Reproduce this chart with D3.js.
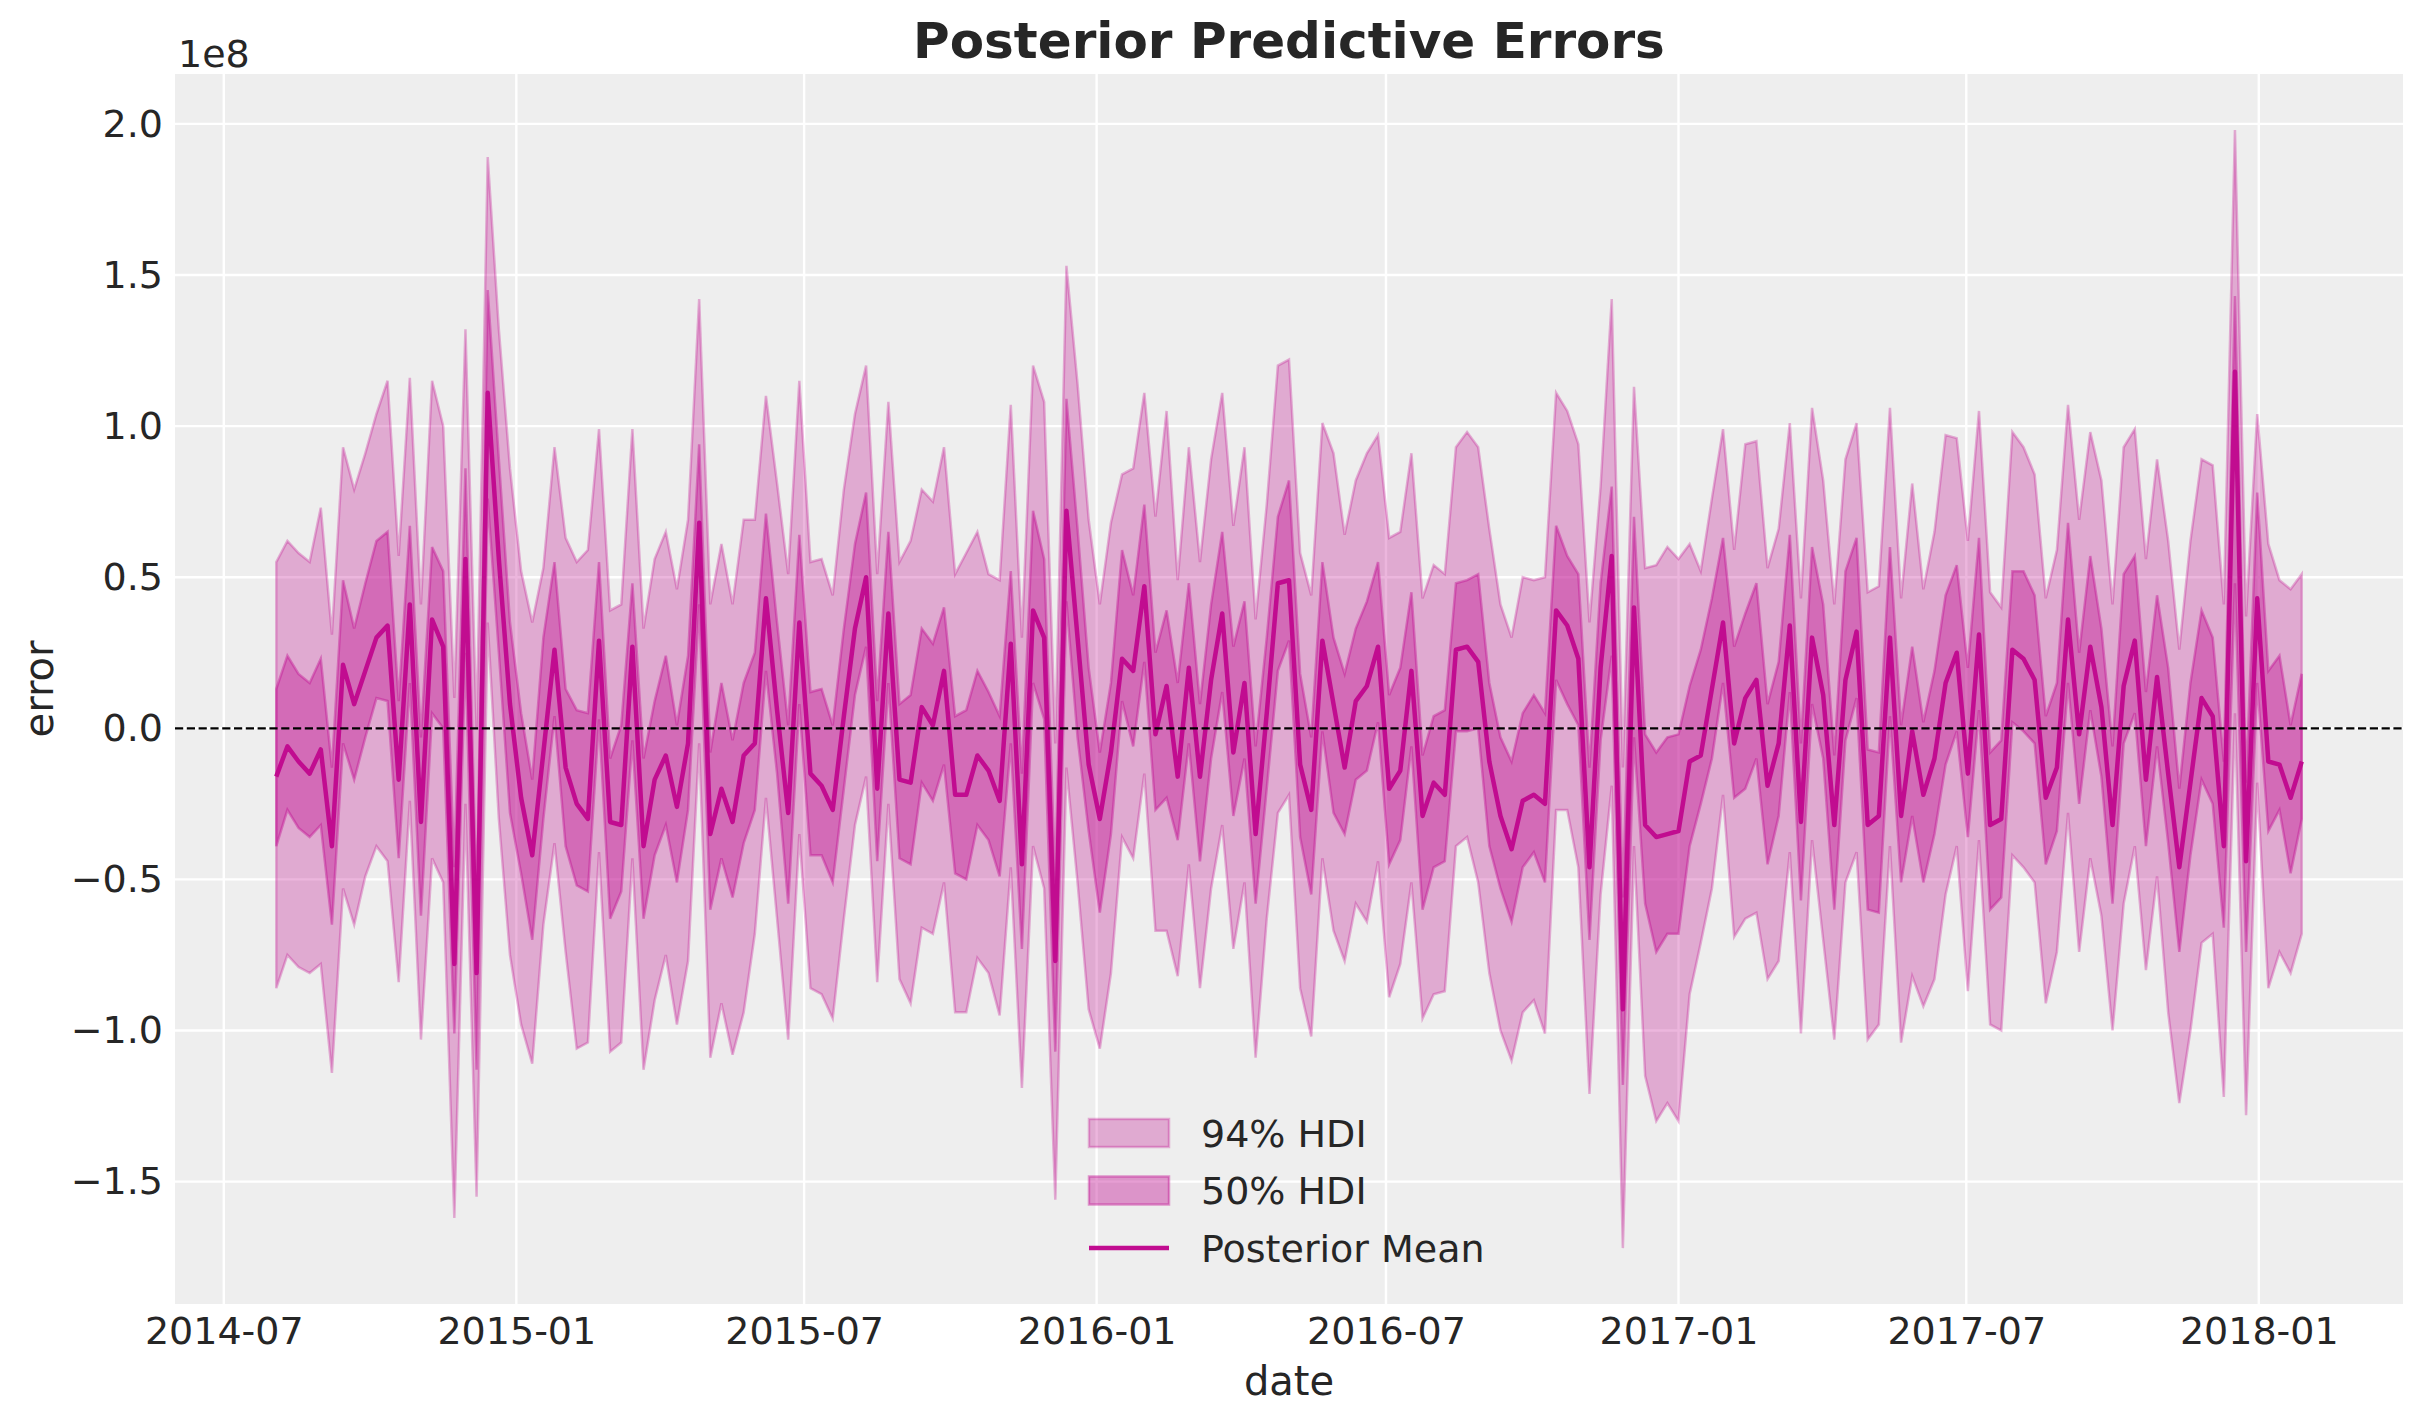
<!DOCTYPE html>
<html>
<head>
<meta charset="utf-8">
<script src="https://cdn.jsdelivr.net/npm/d3@7"></script>
<style>
  body { margin: 0; background: #ffffff; }
  text { font-family: "DejaVu Sans", sans-serif; fill: #262626; }
</style>
</head>
<body>
<div id="chart"></div>
<script>
// Weekly posterior predictive errors, values in units of 1e8
var startDate = "2014-08-03";

var meanValues = [
  -0.16, -0.06, -0.11, -0.15, -0.07, -0.39, 0.21, 0.08, 0.19, 0.30,
  0.34, -0.17, 0.41, -0.31, 0.36, 0.27, -0.78, 0.56, -0.81, 1.11,
  0.56, 0.08, -0.23, -0.42, -0.08, 0.26, -0.13, -0.25, -0.30, 0.29,
  -0.31, -0.32, 0.27, -0.39, -0.17, -0.09, -0.26, -0.05, 0.68, -0.35,
  -0.20, -0.31, -0.09, -0.05, 0.43, 0.06, -0.28, 0.35, -0.15, -0.19,
  -0.27, 0.04, 0.33, 0.50, -0.20, 0.38, -0.17, -0.18, 0.07, 0.01,
  0.19, -0.22, -0.22, -0.09, -0.14, -0.24, 0.28, -0.45, 0.39, 0.30,
  -0.77, 0.72, 0.30, -0.12, -0.30, -0.08, 0.23, 0.19, 0.47, -0.02,
  0.14, -0.16, 0.20, -0.16, 0.16, 0.38, -0.08, 0.15, -0.35, 0.05,
  0.48, 0.49, -0.12, -0.27, 0.29, 0.08, -0.13, 0.09, 0.14, 0.27,
  -0.20, -0.14, 0.19, -0.29, -0.18, -0.22, 0.26, 0.27, 0.22, -0.11,
  -0.29, -0.40, -0.24, -0.22, -0.25, 0.39, 0.34, 0.23, -0.46, 0.20,
  0.57, -0.93, 0.40, -0.32, -0.36, -0.35, -0.34, -0.11, -0.09, 0.13,
  0.35, -0.05, 0.10, 0.16, -0.19, -0.05, 0.34, -0.31, 0.30, 0.11,
  -0.32, 0.16, 0.32, -0.32, -0.29, 0.30, -0.29, -0.01, -0.22, -0.10,
  0.15, 0.25, -0.15, 0.31, -0.32, -0.30, 0.26, 0.23, 0.16, -0.23,
  -0.13, 0.36, -0.02, 0.27, 0.07, -0.32, 0.14, 0.29, -0.17, 0.17,
  -0.15, -0.46, -0.18, 0.10, 0.04, -0.39, 1.18, -0.44, 0.43, -0.11,
  -0.12, -0.23, -0.11
];

var hdi50High = [
  0.13, 0.24, 0.18, 0.15, 0.23, -0.13, 0.49, 0.33, 0.48, 0.62,
  0.65, 0.09, 0.67, -0.03, 0.60, 0.52, -0.46, 0.86, -0.58, 1.45,
  0.89, 0.35, 0.05, -0.17, 0.30, 0.55, 0.13, 0.06, 0.05, 0.55,
  -0.10, 0.01, 0.48, -0.10, 0.09, 0.24, 0.01, 0.24, 0.94, -0.08,
  0.15, -0.04, 0.15, 0.25, 0.71, 0.35, 0.01, 0.64, 0.12, 0.13,
  0.01, 0.33, 0.61, 0.78, 0.09, 0.65, 0.08, 0.11, 0.33, 0.28,
  0.40, 0.04, 0.06, 0.19, 0.12, 0.04, 0.52, -0.15, 0.72, 0.56,
  -0.51, 1.09, 0.66, 0.20, -0.08, 0.15, 0.59, 0.44, 0.74, 0.25,
  0.39, 0.15, 0.48, 0.08, 0.41, 0.65, 0.27, 0.42, -0.06, 0.30,
  0.70, 0.82, 0.18, -0.03, 0.55, 0.30, 0.18, 0.33, 0.42, 0.55,
  0.11, 0.20, 0.45, -0.09, 0.04, 0.06, 0.48, 0.49, 0.51, 0.15,
  -0.03, -0.11, 0.05, 0.11, 0.05, 0.67, 0.57, 0.51, -0.13, 0.48,
  0.80, -0.56, 0.70, -0.02, -0.08, -0.03, -0.02, 0.14, 0.26, 0.43,
  0.63, 0.27, 0.38, 0.48, 0.08, 0.22, 0.64, -0.05, 0.60, 0.41,
  -0.09, 0.52, 0.63, -0.07, -0.08, 0.60, 0.01, 0.27, 0.02, 0.19,
  0.44, 0.54, 0.20, 0.63, -0.08, -0.04, 0.52, 0.52, 0.44, 0.04,
  0.15, 0.68, 0.25, 0.57, 0.33, -0.06, 0.51, 0.57, 0.12, 0.44,
  0.20, -0.20, 0.15, 0.39, 0.30, -0.11, 1.43, -0.18, 0.78, 0.19,
  0.24, 0.01, 0.18
];

var hdi50Low = [
  -0.39, -0.27, -0.33, -0.36, -0.32, -0.65, -0.05, -0.17, -0.03, 0.10,
  0.09, -0.43, 0.15, -0.62, 0.05, 0.00, -1.01, 0.25, -1.13, 0.76,
  0.25, -0.28, -0.48, -0.70, -0.30, 0.04, -0.39, -0.52, -0.54, 0.03,
  -0.63, -0.54, -0.04, -0.63, -0.42, -0.32, -0.51, -0.27, 0.41, -0.60,
  -0.43, -0.56, -0.38, -0.27, 0.19, -0.15, -0.58, 0.08, -0.42, -0.42,
  -0.51, -0.20, 0.11, 0.27, -0.44, 0.15, -0.43, -0.45, -0.18, -0.24,
  -0.12, -0.48, -0.50, -0.32, -0.37, -0.49, -0.05, -0.73, 0.15, 0.03,
  -1.07, 0.42, -0.03, -0.34, -0.61, -0.35, 0.09, -0.06, 0.22, -0.27,
  -0.23, -0.37, -0.05, -0.44, -0.10, 0.12, -0.29, -0.10, -0.58, -0.20,
  0.19, 0.29, -0.36, -0.55, -0.01, -0.28, -0.35, -0.17, -0.14, 0.02,
  -0.45, -0.37, -0.06, -0.60, -0.46, -0.44, -0.01, -0.01, 0.00, -0.39,
  -0.53, -0.64, -0.46, -0.41, -0.51, 0.16, 0.08, 0.01, -0.70, -0.04,
  0.24, -1.18, -0.03, -0.58, -0.74, -0.68, -0.68, -0.39, -0.25, -0.10,
  0.15, -0.23, -0.20, -0.10, -0.45, -0.29, 0.12, -0.57, 0.08, -0.10,
  -0.60, -0.04, 0.10, -0.60, -0.61, 0.04, -0.51, -0.29, -0.51, -0.35,
  -0.12, -0.01, -0.36, 0.06, -0.60, -0.56, 0.02, -0.01, -0.05, -0.45,
  -0.34, 0.15, -0.25, 0.06, -0.16, -0.58, -0.05, 0.05, -0.39, -0.06,
  -0.38, -0.74, -0.42, -0.17, -0.25, -0.66, 0.48, -0.74, 0.15, -0.34,
  -0.27, -0.48, -0.30
];

var hdi94High = [
  0.55, 0.62, 0.58, 0.55, 0.73, 0.31, 0.93, 0.79, 0.91, 1.04,
  1.15, 0.57, 1.16, 0.41, 1.15, 1.00, 0.10, 1.32, 0.00, 1.89,
  1.32, 0.86, 0.52, 0.35, 0.53, 0.93, 0.63, 0.55, 0.59, 0.99,
  0.39, 0.41, 0.99, 0.33, 0.56, 0.65, 0.46, 0.69, 1.42, 0.41,
  0.61, 0.41, 0.69, 0.69, 1.10, 0.81, 0.51, 1.15, 0.55, 0.56,
  0.44, 0.79, 1.04, 1.20, 0.51, 1.08, 0.55, 0.62, 0.79, 0.75,
  0.93, 0.51, 0.58, 0.65, 0.51, 0.49, 1.07, 0.30, 1.20, 1.08,
  -0.05, 1.53, 1.14, 0.69, 0.41, 0.68, 0.84, 0.86, 1.11, 0.70,
  1.05, 0.49, 0.93, 0.55, 0.89, 1.11, 0.67, 0.93, 0.36, 0.74,
  1.20, 1.22, 0.58, 0.44, 1.01, 0.91, 0.64, 0.82, 0.91, 0.97,
  0.63, 0.65, 0.91, 0.43, 0.54, 0.51, 0.93, 0.98, 0.93, 0.66,
  0.41, 0.30, 0.50, 0.49, 0.50, 1.11, 1.05, 0.94, 0.35, 0.80,
  1.42, -0.13, 1.13, 0.53, 0.54, 0.60, 0.56, 0.61, 0.52, 0.76,
  0.99, 0.59, 0.94, 0.95, 0.53, 0.66, 1.01, 0.43, 1.06, 0.82,
  0.41, 0.89, 1.01, 0.45, 0.47, 1.06, 0.43, 0.81, 0.46, 0.65,
  0.97, 0.96, 0.62, 1.05, 0.45, 0.40, 0.98, 0.93, 0.84, 0.43,
  0.59, 1.07, 0.69, 0.98, 0.82, 0.41, 0.93, 0.99, 0.56, 0.89,
  0.62, 0.26, 0.62, 0.89, 0.87, 0.41, 1.98, 0.37, 1.04, 0.61,
  0.49, 0.46, 0.51
];

var hdi94Low = [
  -0.86, -0.75, -0.79, -0.81, -0.78, -1.14, -0.53, -0.65, -0.49, -0.39,
  -0.44, -0.84, -0.24, -1.03, -0.43, -0.51, -1.62, -0.25, -1.55, 0.35,
  -0.30, -0.75, -0.98, -1.11, -0.65, -0.38, -0.74, -1.06, -1.04, -0.41,
  -1.07, -1.04, -0.43, -1.13, -0.90, -0.75, -0.98, -0.77, -0.05, -1.09,
  -0.91, -1.08, -0.94, -0.68, -0.23, -0.63, -1.03, -0.35, -0.86, -0.88,
  -0.96, -0.63, -0.32, -0.16, -0.84, -0.25, -0.83, -0.91, -0.66, -0.68,
  -0.51, -0.94, -0.94, -0.76, -0.81, -0.95, -0.46, -1.19, -0.39, -0.53,
  -1.56, -0.13, -0.51, -0.93, -1.06, -0.81, -0.36, -0.43, -0.15, -0.67,
  -0.67, -0.82, -0.45, -0.86, -0.53, -0.32, -0.73, -0.51, -1.09, -0.63,
  -0.28, -0.22, -0.86, -1.02, -0.43, -0.67, -0.77, -0.58, -0.64, -0.44,
  -0.89, -0.78, -0.51, -0.96, -0.88, -0.87, -0.39, -0.36, -0.51, -0.81,
  -1.00, -1.10, -0.94, -0.90, -1.01, -0.27, -0.27, -0.46, -1.21, -0.55,
  -0.19, -1.72, -0.39, -1.15, -1.30, -1.24, -1.30, -0.88, -0.71, -0.53,
  -0.22, -0.69, -0.63, -0.61, -0.83, -0.77, -0.41, -1.01, -0.37, -0.70,
  -1.03, -0.51, -0.41, -1.03, -0.98, -0.39, -1.04, -0.82, -0.92, -0.83,
  -0.55, -0.39, -0.87, -0.37, -0.98, -1.00, -0.42, -0.46, -0.51, -0.91,
  -0.74, -0.28, -0.74, -0.43, -0.62, -1.00, -0.58, -0.39, -0.80, -0.49,
  -0.94, -1.24, -1.00, -0.71, -0.68, -1.22, 0.05, -1.28, -0.18, -0.86,
  -0.74, -0.81, -0.68
];

// Tick labels
var xTickLabels = ["2014-07", "2015-01", "2015-07", "2016-01", "2016-07", "2017-01", "2017-07", "2018-01"];
var yTickValues = [-1.5, -1.0, -0.5, 0.0, 0.5, 1.0, 1.5, 2.0];

// Legend entries
var legendLabels = ["94% HDI", "50% HDI", "Posterior Mean"];

// Canvas size
var svgWidth = 2423;
var svgHeight = 1423;
var margin = { top: 74, right: 20, bottom: 119, left: 175 };
var width = svgWidth - margin.left - margin.right;
var height = svgHeight - margin.top - margin.bottom;

var mainColor = "#c10c90";

// One row per week
var parseDay = d3.timeParse("%Y-%m-%d");
var parseMonth = d3.timeParse("%Y-%m");
var theData = meanValues.map(function(m, i) {
  return {
    date: d3.timeDay.offset(parseDay(startDate), 7 * i),
    mean: m,
    lo50: hdi50Low[i],
    hi50: hdi50High[i],
    lo94: hdi94Low[i],
    hi94: hdi94High[i]
  };
});

var svg = d3
  .select("#chart")
  .append("svg")
  .attr("width", svgWidth)
  .attr("height", svgHeight);

var chart = svg
  .append("g")
  .attr("transform", "translate(" + margin.left + "," + margin.top + ")");

// Matplotlib style 5% padding on both axes
var xExt = d3.extent(theData, function(d) { return d.date; });
var xPad = (xExt[1] - xExt[0]) * 0.05;
var xScale = d3
  .scaleTime()
  .domain([new Date(+xExt[0] - xPad), new Date(+xExt[1] + xPad)])
  .range([0, width]);

var yMin = d3.min(theData, function(d) { return d.lo94; });
var yMax = d3.max(theData, function(d) { return d.hi94; });
var yPad = (yMax - yMin) * 0.05;
var yScale = d3
  .scaleLinear()
  .domain([yMin - yPad, yMax + yPad])
  .range([height, 0]);

// Grey plotting area
chart
  .append("rect")
  .attr("width", width)
  .attr("height", height)
  .attr("fill", "#eeeeee");

var xTickDates = xTickLabels.map(function(s) { return parseMonth(s); });

// White grid lines
chart
  .append("g")
  .selectAll("line")
  .data(xTickDates)
  .enter()
  .append("line")
  .attr("x1", function(d) { return xScale(d); })
  .attr("x2", function(d) { return xScale(d); })
  .attr("y1", 0)
  .attr("y2", height)
  .attr("stroke", "#ffffff")
  .attr("stroke-width", 2.4);

chart
  .append("g")
  .selectAll("line")
  .data(yTickValues)
  .enter()
  .append("line")
  .attr("x1", 0)
  .attr("x2", width)
  .attr("y1", function(d) { return yScale(d); })
  .attr("y2", function(d) { return yScale(d); })
  .attr("stroke", "#ffffff")
  .attr("stroke-width", 2.4);

// HDI bands
function band(lo, hi) {
  return d3
    .area()
    .x(function(d) { return xScale(d.date); })
    .y0(function(d) { return yScale(d[lo]); })
    .y1(function(d) { return yScale(d[hi]); });
}

chart
  .append("path")
  .datum(theData)
  .attr("d", band("lo94", "hi94"))
  .attr("fill", mainColor)
  .attr("fill-opacity", 0.3)
  .attr("stroke", mainColor)
  .attr("stroke-opacity", 0.3)
  .attr("stroke-width", 2.5);

chart
  .append("path")
  .datum(theData)
  .attr("d", band("lo50", "hi50"))
  .attr("fill", mainColor)
  .attr("fill-opacity", 0.4)
  .attr("stroke", mainColor)
  .attr("stroke-opacity", 0.4)
  .attr("stroke-width", 2.5);

// Posterior mean line
var meanLine = d3
  .line()
  .x(function(d) { return xScale(d.date); })
  .y(function(d) { return yScale(d.mean); });

chart
  .append("path")
  .datum(theData)
  .attr("d", meanLine)
  .attr("fill", "none")
  .attr("stroke", mainColor)
  .attr("stroke-width", 4.5)
  .attr("stroke-linejoin", "round");

// Zero reference line
chart
  .append("line")
  .attr("x1", 0)
  .attr("x2", width)
  .attr("y1", yScale(0))
  .attr("y2", yScale(0))
  .attr("stroke", "#000000")
  .attr("stroke-width", 2.2)
  .attr("stroke-dasharray", "8.2,3.6");

// Axes without tick marks or spines
var xAxis = d3
  .axisBottom(xScale)
  .tickValues(xTickDates)
  .tickFormat(d3.timeFormat("%Y-%m"))
  .tickSize(0)
  .tickPadding(13);

var yAxis = d3
  .axisLeft(yScale)
  .tickValues(yTickValues)
  .tickFormat(d3.format(".1f"))
  .tickSize(0)
  .tickPadding(12);

var xAxisG = chart
  .append("g")
  .attr("transform", "translate(0," + height + ")")
  .call(xAxis);

var yAxisG = chart.append("g").call(yAxis);

[xAxisG, yAxisG].forEach(function(g) {
  g.select(".domain").remove();
  g.selectAll("text")
    .style("font-family", "'DejaVu Sans', sans-serif")
    .style("font-size", "38px")
    .attr("fill", "#262626");
});

// Offset text for the y axis
svg
  .append("text")
  .attr("x", margin.left + 3)
  .attr("y", 67)
  .style("font-size", "38px")
  .text("1e8");

// Title
svg
  .append("text")
  .attr("x", margin.left + width / 2)
  .attr("y", 58)
  .attr("text-anchor", "middle")
  .style("font-size", "50px")
  .style("font-weight", "bold")
  .text("Posterior Predictive Errors");

// Axis labels
svg
  .append("text")
  .attr("x", margin.left + width / 2)
  .attr("y", 1395)
  .attr("text-anchor", "middle")
  .style("font-size", "40px")
  .text("date");

svg
  .append("text")
  .attr("transform", "translate(53," + (margin.top + height / 2) + ")rotate(-90)")
  .attr("text-anchor", "middle")
  .style("font-size", "40px")
  .text("error");

// Legend, lower center
var legend = chart
  .append("g")
  .attr("transform", "translate(" + (width / 2 - 200) + "," + (height - 171) + ")");

var rowGap = 57.5;

legend
  .append("rect")
  .attr("x", 0)
  .attr("y", -14)
  .attr("width", 80)
  .attr("height", 28)
  .attr("fill", mainColor)
  .attr("fill-opacity", 0.3)
  .attr("stroke", mainColor)
  .attr("stroke-opacity", 0.3)
  .attr("stroke-width", 2.5);

legend
  .append("rect")
  .attr("x", 0)
  .attr("y", rowGap - 14)
  .attr("width", 80)
  .attr("height", 28)
  .attr("fill", mainColor)
  .attr("fill-opacity", 0.4)
  .attr("stroke", mainColor)
  .attr("stroke-opacity", 0.4)
  .attr("stroke-width", 2.5);

legend
  .append("line")
  .attr("x1", 0)
  .attr("x2", 80)
  .attr("y1", rowGap * 2)
  .attr("y2", rowGap * 2)
  .attr("stroke", mainColor)
  .attr("stroke-width", 4.5);

legend
  .selectAll(".legendText")
  .data(legendLabels)
  .enter()
  .append("text")
  .attr("class", "legendText")
  .attr("x", 112)
  .attr("y", function(d, i) { return i * rowGap; })
  .attr("dy", "0.36em")
  .style("font-size", "38px")
  .text(function(d) { return d; });
</script>
</body>
</html>
